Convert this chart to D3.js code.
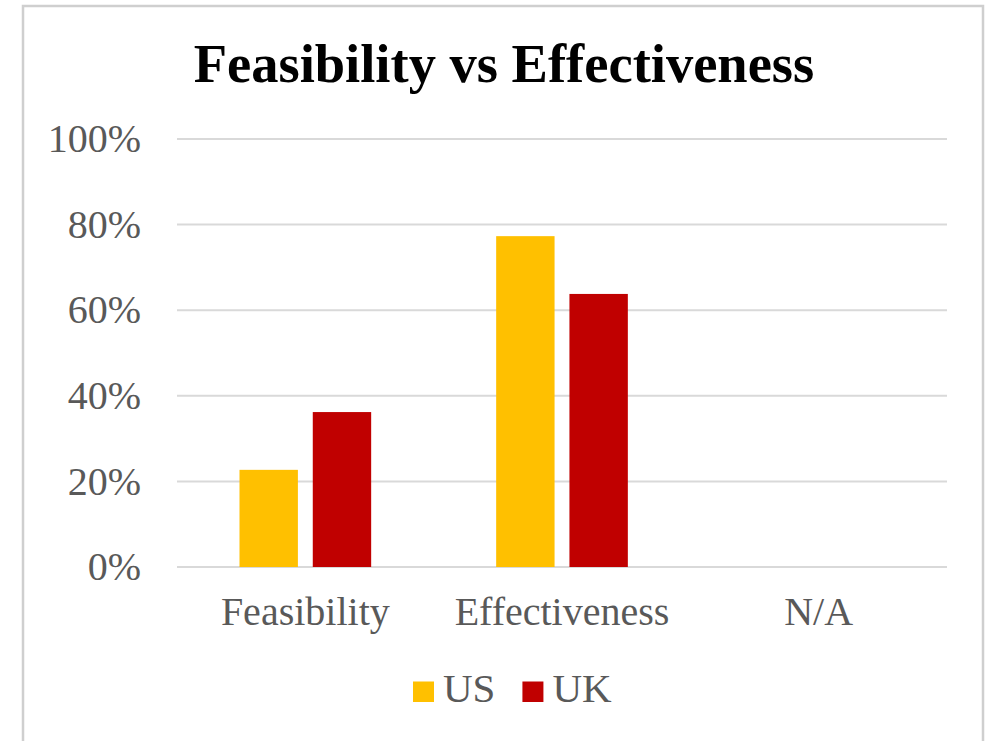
<!DOCTYPE html>
<html>
<head>
<meta charset="utf-8">
<script src="https://cdn.jsdelivr.net/npm/d3@7"></script>
<style>
  body { margin: 0; background: #fff; }
  svg { display: block; }
  text { font-family: "Liberation Serif", "Times New Roman", serif; }
</style>
</head>
<body>
<svg width="992" height="741"></svg>
<script>
// data
var categories = ["Feasibility", "Effectiveness", "N/A"];
var seriesNames = ["US", "UK"];
var usValues = [0.227, 0.773, 0];
var ukValues = [0.362, 0.638, 0];
var yTicks = [0, 0.2, 0.4, 0.6, 0.8, 1.0];
var colors = ["#FFC000", "#C00000"];

var svg = d3.select("svg");

// chart frame
svg.append("rect")
  .attr("x", 23).attr("y", 6)
  .attr("width", 960).attr("height", 780)
  .attr("fill", "#fff")
  .attr("stroke", "#cfcfcf")
  .attr("stroke-width", 2.5);

var x0 = d3.scaleBand().domain(categories).range([177, 947]).paddingInner(0.487).paddingOuter(0.2435);
var x1 = d3.scaleBand().domain(seriesNames).range([0, x0.bandwidth()]).paddingInner(0.203);
var y = d3.scaleLinear().domain([0, 1]).range([567, 139]);

// gridlines
svg.append("g").selectAll("line").data(yTicks).enter().append("line")
  .attr("x1", 177).attr("x2", 947)
  .attr("y1", d => y(d)).attr("y2", d => y(d))
  .attr("stroke", "#d9d9d9")
  .attr("stroke-width", 2);

// y labels
svg.append("g").selectAll("text").data(yTicks).enter().append("text")
  .attr("x", 141)
  .attr("y", d => y(d))
  .attr("dy", "0.33em")
  .attr("text-anchor", "end")
  .attr("fill", "#595959")
  .attr("font-size", 40)
  .text(d => d3.format(".0%")(d));

// bars
var rows = categories.map((c, i) => ({cat: c, vals: [usValues[i], ukValues[i]]}));
var groups = svg.append("g").selectAll("g").data(rows).enter().append("g")
  .attr("transform", d => "translate(" + x0(d.cat) + ",0)");

groups.selectAll("rect").data(d => d.vals.map((v, j) => ({name: seriesNames[j], v: v, j: j})))
  .enter().append("rect")
  .attr("x", d => x1(d.name))
  .attr("width", x1.bandwidth())
  .attr("y", d => y(d.v))
  .attr("height", d => y(0) - y(d.v))
  .attr("fill", d => colors[d.j]);

// x labels
svg.append("g").selectAll("text").data(categories).enter().append("text")
  .attr("x", d => x0(d) + x0.bandwidth() / 2)
  .attr("y", 625)
  .attr("text-anchor", "middle")
  .attr("fill", "#595959")
  .attr("font-size", 40)
  .text(d => d);

// title
svg.append("text")
  .attr("x", 504)
  .attr("y", 82)
  .attr("text-anchor", "middle")
  .attr("font-weight", "bold")
  .attr("font-size", 54.5)
  .attr("fill", "#000")
  .text("Feasibility vs Effectiveness");

// legend
var legend = svg.append("g");
var lx = 0;
seriesNames.forEach(function(name, i) {
  var item = legend.append("g").attr("transform", "translate(" + lx + ",0)");
  item.append("rect")
    .attr("x", 0).attr("y", -20.5)
    .attr("width", 21).attr("height", 20.5)
    .attr("fill", colors[i]);
  var t = item.append("text")
    .attr("x", 30).attr("y", 0)
    .attr("fill", "#595959")
    .attr("font-size", 41)
    .text(name);
  lx += 30 + t.node().getComputedTextLength() + 27;
});
legend.attr("transform", "translate(413,702)");
</script>
</body>
</html>
